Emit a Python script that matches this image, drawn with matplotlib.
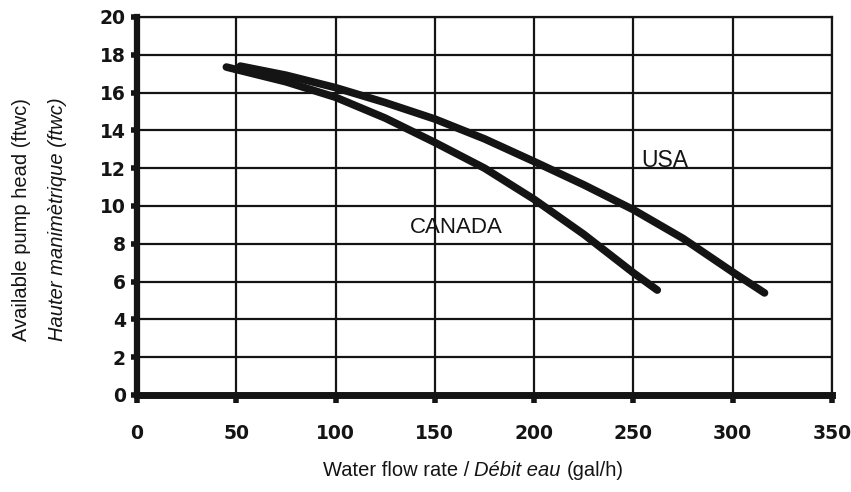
import matplotlib
matplotlib.use("Agg")
import matplotlib.pyplot as plt
from matplotlib.offsetbox import TextArea, HPacker, AnchoredOffsetbox

# ---- data ----
usa_flow = [52, 75, 100, 125, 150, 175, 200, 225, 250, 275, 300, 316]
usa_head = [17.4, 16.92, 16.26, 15.47, 14.6, 13.55, 12.35, 11.12, 9.8, 8.28, 6.5, 5.4]

canada_flow = [45, 60, 75, 100, 125, 150, 175, 200, 225, 250, 262]
canada_head = [17.35, 16.96, 16.57, 15.75, 14.65, 13.36, 12.0, 10.35, 8.5, 6.46, 5.55]

x_ticks = [0, 50, 100, 150, 200, 250, 300, 350]
y_ticks = [0, 2, 4, 6, 8, 10, 12, 14, 16, 18, 20]

INK = "#141414"
plt.rcParams['font.family'] = ['Liberation Sans', 'DejaVu Sans']

fig = plt.figure(figsize=(8.51, 4.92), dpi=100)
ax = fig.add_axes([0.161, 0.1972, 0.8167, 0.7683])

ax.set_xlim(0, 350)
ax.set_ylim(0, 20)
ax.set_xticks(x_ticks)
ax.set_yticks(y_ticks)
tick_font = dict(fontsize=13.5, fontweight='bold', color=INK, family='DejaVu Sans')
ax.set_xticklabels([str(v) for v in x_ticks], **tick_font)
ax.set_yticklabels([str(v) for v in y_ticks], **tick_font)

ax.grid(True, color=INK, lw=1.6)
ax.set_axisbelow(True)

for side in ['top', 'right']:
    ax.spines[side].set_linewidth(1.6)
    ax.spines[side].set_color(INK)
ax.spines['left'].set_linewidth(4.5)
ax.spines['bottom'].set_linewidth(5)
ax.spines['left'].set_color(INK)
ax.spines['bottom'].set_color(INK)

ax.tick_params(axis='y', length=4, width=4, pad=4, color=INK)
ax.tick_params(axis='x', length=6, width=4, pad=15, color=INK)

ax.plot(usa_flow, usa_head, color=INK, lw=5.5, solid_capstyle='round', solid_joinstyle='round')
ax.plot(canada_flow, canada_head, color=INK, lw=5.5, solid_capstyle='round', solid_joinstyle='round')

ax.text(265.8, 12.43, "USA", fontsize=16.5, color=INK, ha='center', va='center')
ax.text(160.9, 8.84, "CANADA", fontsize=16, color=INK, ha='center', va='center')

# y labels
fig.text(22 / 851, 1 - 220 / 492, "Available pump head (ftwc)", rotation=90,
         fontsize=14.5, color=INK, ha='center', va='center')
fig.text(58 / 851, 1 - 219 / 492, "Hauter manimètrique (ftwc)", rotation=90,
         fontsize=14.5, style='italic', color=INK, ha='center', va='center')

# x label with mixed style
tp = dict(fontsize=14.5, color=INK)
pieces = [TextArea("Water flow rate /", textprops=tp),
          TextArea("Débit eau", textprops=dict(tp, style='italic')),
          TextArea("(gal/h)", textprops=tp)]
hp = HPacker(children=pieces, pad=0, sep=4, align='baseline')
anch = AnchoredOffsetbox(loc='center', child=hp, pad=0, borderpad=0, frameon=False,
                         bbox_to_anchor=(473 / 851, 1 - 470 / 492),
                         bbox_transform=fig.transFigure)
fig.add_artist(anch)

fig.savefig("out.png", dpi=100, facecolor='white')
